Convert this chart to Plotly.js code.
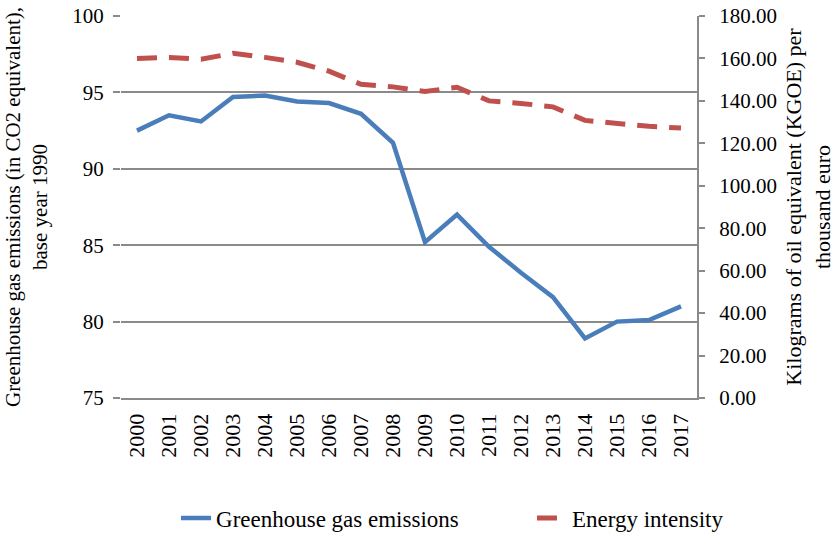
<!DOCTYPE html>
<html>
<head>
<meta charset="utf-8">
<script src="https://cdn.plot.ly/plotly-3.0.1.min.js"></script>
<style>html,body{margin:0;padding:0;background:#fff;}#chart{width:835px;height:533px;}</style>
</head>
<body>
<div id="chart"></div>
<script>
const years = ["2000","2001","2002","2003","2004","2005","2006","2007","2008","2009","2010","2011","2012","2013","2014","2015","2016","2017"];
const ghgEmissions = [92.5, 93.5, 93.1, 94.7, 94.8, 94.4, 94.3, 93.6, 91.7, 85.2, 87.0, 84.9, 83.2, 81.6, 78.9, 80.0, 80.1, 81.0];
const energyIntensity = [160.0, 160.5, 159.6, 162.4, 160.5, 158.2, 154.0, 147.8, 146.6, 144.4, 146.4, 140.0, 138.8, 137.2, 130.8, 129.4, 128.0, 127.2];
const leftTicks = [75, 80, 85, 90, 95, 100];
const rightTicks = [0, 20, 40, 60, 80, 100, 120, 140, 160, 180];

const fam = "Liberation Serif";
const tickFont = {family: fam, size: 21, color: "#000"};
const yearFont = {family: fam, size: 22, color: "#000"};
const leftTitleFont = {family: fam, size: 21, color: "#000"};
const rightTitleFont = {family: fam, size: 22, color: "#000"};
const legendFont = {family: fam, size: 23, color: "#000"};
const gray = "#8a8a8a";

const traces = [
  {x: years, y: ghgEmissions, name: "Greenhouse gas emissions", type: "scatter", mode: "lines",
   line: {color: "#4a7ebb", width: 4.5}, yaxis: "y", legend: "legend"},
  {x: years, y: energyIntensity, name: "Energy intensity", type: "scatter", mode: "lines",
   line: {color: "#c0504d", width: 5, dash: "20px,12px"}, yaxis: "y2", legend: "legend2"}
];

const layout = {
  width: 835, height: 533,
  margin: {l: 121, r: 138, t: 16, b: 135},
  paper_bgcolor: "#fff", plot_bgcolor: "#fff",
  font: tickFont,
  showlegend: true,
  legend: {orientation: "h", xref: "container", yref: "container", x: 0.2108, xanchor: "left",
           y: 0.028, yanchor: "middle", font: legendFont},
  legend2: {orientation: "h", xref: "container", yref: "container", x: 0.6371, xanchor: "left",
           y: 0.028, yanchor: "middle", font: legendFont},
  xaxis: {type: "category", range: [-0.5, 17.5], automargin: false, tickangle: -90, showline: true,
          linecolor: gray, linewidth: 2, showgrid: false, ticks: "", tickfont: yearFont, zeroline: false,
          ticklabelstandoff: 5},
  yaxis: {range: [75, 100], tickvals: leftTicks, automargin: false, showgrid: true, gridcolor: gray, gridwidth: 2,
          ticks: "outside", ticklen: 7, tickcolor: gray, tickwidth: 2, showline: false, zeroline: false,
          tickfont: tickFont, ticklabelstandoff: 5,
          title: {text: "Greenhouse gas emissions (in CO2 equivalent),<br>base year 1990", font: leftTitleFont, standoff: 18}},
  yaxis2: {range: [0, 180], tickvals: rightTicks, tickformat: ".2f", overlaying: "y", side: "right",
           automargin: false, showgrid: false, showline: true, linecolor: gray, linewidth: 2, ticks: "outside", ticklen: 6,
           tickcolor: gray, tickwidth: 2, zeroline: false, tickfont: tickFont, ticklabelstandoff: 10,
           title: {text: "Kilograms of oil equivalent (KGOE) per<br>thousand euro", font: rightTitleFont, standoff: 12}}
};

Plotly.newPlot("chart", traces, layout, {displayModeBar: false, staticPlot: true});
</script>
</body>
</html>
